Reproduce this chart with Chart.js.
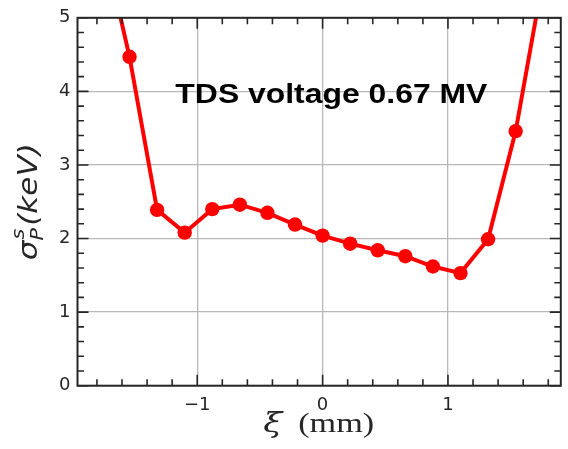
<!DOCTYPE html>
<html>
<head>
<meta charset="utf-8">
<script src="https://cdn.jsdelivr.net/npm/chart.js@4/dist/chart.umd.min.js"></script>
<style>
  html, body { margin: 0; padding: 0; background: #ffffff; }
  #wrap { width: 568px; height: 449px; }
</style>
</head>
<body>
<div id="wrap"><canvas id="c" width="568" height="449"></canvas></div>
<script>
// Longitudinal coordinate xi (mm) of each slice
const xiValues = [-1.76, -1.54, -1.32, -1.10, -0.88, -0.66, -0.44, -0.22, 0.00,
                  0.22, 0.44, 0.66, 0.88, 1.10, 1.32, 1.54, 1.76];
// Slice energy spread sigma_P^s (keV)
const sigmaValues = [6.10, 4.47, 2.39, 2.08, 2.40, 2.46, 2.35, 2.19, 2.04,
                     1.93, 1.84, 1.76, 1.62, 1.53, 1.99, 3.46, 5.55];

// Axis ticks
const xMajorTicks = [-1, 0, 1];
const xMinorTicks = [-1.8, -1.6, -1.4, -1.2, -0.8, -0.6, -0.4, -0.2,
                     0.2, 0.4, 0.6, 0.8, 1.2, 1.4, 1.6, 1.8];
const yMajorTicks = [0, 1, 2, 3, 4, 5];
const yMinorTicks = [0.2, 0.4, 0.6, 0.8, 1.2, 1.4, 1.6, 1.8, 2.2, 2.4, 2.6, 2.8,
                     3.2, 3.4, 3.6, 3.8, 4.2, 4.4, 4.6, 4.8];

const annotationText = 'TDS voltage 0.67 MV';

const INK = '#262626';

// Draws text horizontally scaled to a given width, starting at left
function drawFitted(ctx, text, font, targetW, left, baseY) {
  ctx.font = font;
  const w = ctx.measureText(text).width;
  ctx.save();
  ctx.translate(left, baseY);
  ctx.scale(targetW / w, 1);
  ctx.textAlign = 'left';
  ctx.textBaseline = 'alphabetic';
  ctx.fillText(text, 0, 0);
  ctx.restore();
}

const framePlugin = {
  id: 'frame',
  beforeDraw(chart) {
    const ctx = chart.ctx;
    ctx.save();
    ctx.fillStyle = '#ffffff';
    ctx.fillRect(0, 0, chart.width, chart.height);
    ctx.restore();
  },
  afterDraw(chart) {
    const ctx = chart.ctx;
    const a = chart.chartArea;
    const xs = chart.scales.x, ys = chart.scales.y;
    ctx.save();
    ctx.strokeStyle = INK;
    // inward ticks on all four sides
    const tick = (vals, len, isX) => {
      ctx.lineWidth = 1.6;
      ctx.beginPath();
      vals.forEach(v => {
        if (isX) {
          const px = xs.getPixelForValue(v);
          ctx.moveTo(px, a.bottom); ctx.lineTo(px, a.bottom - len);
          ctx.moveTo(px, a.top); ctx.lineTo(px, a.top + len);
        } else {
          const py = ys.getPixelForValue(v);
          ctx.moveTo(a.left, py); ctx.lineTo(a.left + len, py);
          ctx.moveTo(a.right, py); ctx.lineTo(a.right - len, py);
        }
      });
      ctx.stroke();
    };
    tick(xMajorTicks, 11, true);
    tick(xMinorTicks, 6.5, true);
    tick(yMajorTicks, 11, false);
    tick(yMinorTicks, 6.5, false);
    // frame
    ctx.lineWidth = 2;
    ctx.strokeRect(a.left, a.top, a.right - a.left, a.bottom - a.top);

    // annotation inside the axes
    ctx.fillStyle = '#000000';
    const tx = xs.getPixelForValue(0.07);
    drawFitted(ctx, annotationText, 'bold 27px "Liberation Sans", Arial, sans-serif',
      312, tx - 156, ys.getPixelForValue(3.97) + 9);

    // x axis label: xi (mm)
    ctx.fillStyle = INK;
    const mid = (a.left + a.right) / 2;
    drawFitted(ctx, 'ξ', 'italic 28px "DejaVu Serif", serif', 19, mid - 56, 432);
    drawFitted(ctx, '(mm)', '28px "Liberation Serif", "DejaVu Serif", serif', 76, mid - 21, 432);

    // y axis label: sigma_P^s(keV)
    ctx.save();
    const cy = (a.top + a.bottom) / 2;
    ctx.translate(37, cy);
    ctx.rotate(-Math.PI / 2);
    const big = 'italic 27px "DejaVu Sans", sans-serif';
    const small = 'italic 18px "DejaVu Sans", sans-serif';
    ctx.font = big; const wSig = ctx.measureText('σ').width;
    const wRest = ctx.measureText('(keV)').width;
    ctx.font = small; const wSub = Math.max(ctx.measureText('P').width, ctx.measureText('s').width);
    const total = wSig + wSub + 2 + wRest;
    const target = 117;
    ctx.scale(target / total, 1);
    let x = -total / 2;
    ctx.textBaseline = 'alphabetic';
    ctx.textAlign = 'left';
    ctx.font = big; ctx.fillText('σ', x, 0); x += wSig;
    ctx.font = small; ctx.fillText('s', x + 1, -13); ctx.fillText('P', x, 6); x += wSub + 2;
    ctx.font = big; ctx.fillText('(keV)', x, 0);
    ctx.restore();

    ctx.restore();
  }
};

const fmt = v => (v < 0 ? '\u2212' + Math.abs(v) : String(v));

new Chart(document.getElementById('c'), {
  type: 'line',
  data: {
    datasets: [{
      data: xiValues.map((x, i) => ({ x: x, y: sigmaValues[i] })),
      borderColor: '#ff0000',
      backgroundColor: '#ff0000',
      borderWidth: 4,
      pointRadius: 7.2,
      pointHoverRadius: 7.2,
      pointBorderWidth: 0,
      pointBackgroundColor: '#ff0000',
      tension: 0,
      fill: false
    }]
  },
  options: {
    responsive: false,
    animation: false,
    events: [],
    layout: { padding: { left: 0, top: 15, right: 4, bottom: 0 } },
    plugins: { legend: { display: false }, tooltip: { enabled: false } },
    scales: {
      x: {
        type: 'linear',
        min: -1.955,
        max: 1.9,
        afterBuildTicks: s => { s.ticks = xMajorTicks.map(v => ({ value: v })); },
        afterFit: s => { s.height = 63.3; },
        grid: { color: '#b8b8b8', lineWidth: 1.3, drawTicks: false },
        border: { display: false },
        ticks: {
          padding: 9,
          color: INK,
          font: { family: '"DejaVu Sans", sans-serif', size: 18 },
          callback: v => fmt(v),
          maxRotation: 0
        }
      },
      y: {
        type: 'linear',
        min: 0,
        max: 5,
        afterBuildTicks: s => { s.ticks = yMajorTicks.map(v => ({ value: v })); },
        afterFit: s => { s.width = 77.5; },
        grid: { color: '#b8b8b8', lineWidth: 1.3, drawTicks: false },
        border: { display: false },
        ticks: {
          padding: 7,
          color: INK,
          font: { family: '"DejaVu Sans", sans-serif', size: 18 },
          callback: v => fmt(v)
        }
      }
    }
  },
  plugins: [framePlugin]
});
</script>
</body>
</html>
